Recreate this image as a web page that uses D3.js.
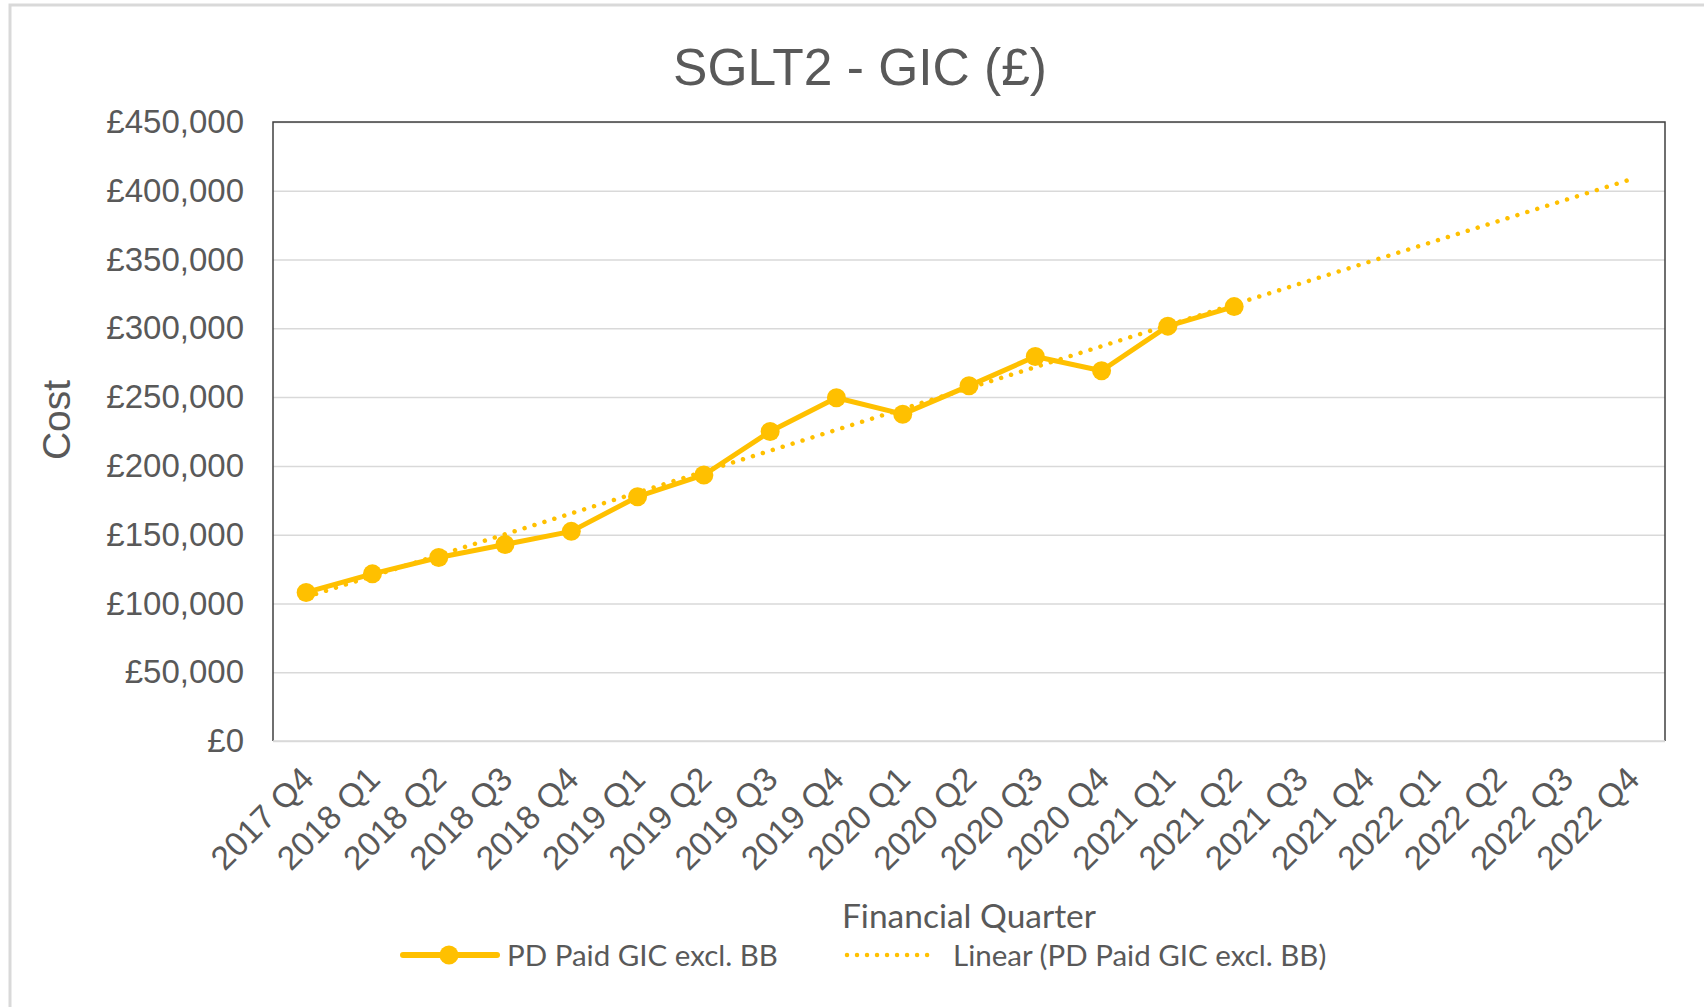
<!DOCTYPE html>
<html>
<head>
<meta charset="utf-8">
<script src="https://cdn.jsdelivr.net/npm/d3@7"></script>
<style>
  body { margin: 0; background: #fff; }
  text { fill: #595959; }
  .arial { font-family: "Liberation Sans", Arial, sans-serif; }
  .calib { font-family: Lato, "Open Sans", sans-serif; }
</style>
</head>
<body>
<script>
// data
var quarters = ['2017 Q4','2018 Q1','2018 Q2','2018 Q3','2018 Q4',
                '2019 Q1','2019 Q2','2019 Q3','2019 Q4',
                '2020 Q1','2020 Q2','2020 Q3','2020 Q4',
                '2021 Q1','2021 Q2','2021 Q3','2021 Q4',
                '2022 Q1','2022 Q2','2022 Q3','2022 Q4'];
var paidGIC = [108000, 121500, 133400, 142900, 152400,
               177600, 193400, 225000, 249500,
               237600, 258200, 279500, 269200,
               301600, 315800];
var yTicks = [0, 50000, 100000, 150000, 200000, 250000, 300000, 350000, 400000, 450000];

var colour = '#FFC000';
var W = 1704, H = 1007;
var plot = {l: 273, t: 122, r: 1665, b: 741};

var svg = d3.select('body').append('svg')
    .attr('width', W)
    .attr('height', H);

// outer frame
svg.append('rect')
    .attr('x', 10).attr('y', 5)
    .attr('width', W + 20).attr('height', H + 20)
    .attr('fill', 'none')
    .attr('stroke', '#d9d9d9')
    .attr('stroke-width', 3);

// title
svg.append('text')
    .attr('class', 'arial')
    .attr('x', 860).attr('y', 85)
    .attr('text-anchor', 'middle')
    .style('font-size', '51.5px')
    .text('SGLT2 - GIC (£)');

var x = d3.scalePoint()
    .domain(quarters)
    .range([plot.l, plot.r])
    .padding(0.5);

var y = d3.scaleLinear()
    .domain([0, 450000])
    .range([plot.b, plot.t]);

// gridlines
svg.append('g')
  .attr('transform', 'translate(' + plot.l + ',0)')
  .call(d3.axisLeft(y).tickValues(yTicks).tickSize(-(plot.r - plot.l)).tickFormat(''))
  .call(function(g) { g.select('.domain').remove(); })
  .selectAll('line')
    .attr('stroke', '#d9d9d9')
    .attr('stroke-width', 1.5);

// plot border (top, left, right)
svg.append('path')
    .attr('d', 'M' + plot.l + ',' + plot.b + 'V' + plot.t + 'H' + plot.r + 'V' + plot.b)
    .attr('fill', 'none')
    .attr('stroke', '#404040')
    .attr('stroke-width', 1.5);
svg.append('line')
    .attr('x1', plot.l).attr('x2', plot.r)
    .attr('y1', plot.b).attr('y2', plot.b)
    .attr('stroke', '#d9d9d9')
    .attr('stroke-width', 1.5);

// y axis labels
var yAxis = svg.append('g')
  .attr('transform', 'translate(' + plot.l + ',0)')
  .call(d3.axisLeft(y).tickValues(yTicks).tickSize(0).tickPadding(29)
        .tickFormat(function(d) { return '£' + d3.format(',')(d); }));
yAxis.select('.domain').remove();
yAxis.selectAll('text')
    .attr('fill', '#595959')
    .style('font-size', '33px')
    .style('font-family', '"Liberation Sans", Arial, sans-serif');

// x axis labels
var xAxis = svg.append('g')
  .attr('transform', 'translate(0,' + plot.b + ')')
  .call(d3.axisBottom(x).tickSize(0).tickFormat(function(d) { return d; }));
xAxis.select('.domain').remove();
xAxis.selectAll('text')
    .attr('fill', '#595959')
    .attr('text-anchor', 'end')
    .attr('dy', null)
    .attr('y', 0)
    .attr('transform', 'translate(9,40) rotate(-45)')
    .style('font-size', '33.5px')
    .style('font-family', '"Liberation Sans", Arial, sans-serif');

// axis titles
svg.append('text')
    .attr('class', 'arial')
    .attr('transform', 'translate(70,420) rotate(-90)')
    .attr('text-anchor', 'middle')
    .style('font-size', '39px')
    .text('Cost');

svg.append('text')
    .attr('class', 'calib')
    .attr('x', (plot.l + plot.r) / 2).attr('y', 928)
    .attr('text-anchor', 'middle')
    .style('font-size', '33.5px')
    .text('Financial Quarter');

// linear trend (least squares over the plotted quarters)
var mx = d3.mean(paidGIC, function(d, i) { return i; });
var my = d3.mean(paidGIC);
var sxy = d3.sum(paidGIC, function(d, i) { return (i - mx) * (d - my); });
var sxx = d3.sum(paidGIC, function(d, i) { return (i - mx) * (i - mx); });
var slope = sxy / sxx;
var icpt = my - slope * mx;
var trend = [0, quarters.length - 1].map(function(i) {
  return {q: quarters[i], v: icpt + slope * i};
});

var series = paidGIC.map(function(v, i) { return {q: quarters[i], v: v}; });

var line = d3.line()
    .x(function(d) { return x(d.q); })
    .y(function(d) { return y(d.v); });

svg.append('path')
    .datum(series)
    .attr('d', line)
    .attr('fill', 'none')
    .attr('stroke', colour)
    .attr('stroke-width', 5)
    .attr('stroke-linejoin', 'round');

svg.selectAll('circle.pt')
  .data(series)
  .enter().append('circle')
    .attr('class', 'pt')
    .attr('cx', function(d) { return x(d.q); })
    .attr('cy', function(d) { return y(d.v); })
    .attr('r', 9.5)
    .attr('fill', colour);

svg.append('path')
    .datum(trend)
    .attr('d', line)
    .attr('fill', 'none')
    .attr('stroke', colour)
    .attr('stroke-width', 4.5)
    .attr('stroke-linecap', 'round')
    .attr('stroke-dasharray', '0.01 10.4');

// legend
var lg = svg.append('g');
lg.append('line')
    .attr('x1', 403).attr('x2', 497)
    .attr('y1', 955).attr('y2', 955)
    .attr('stroke', colour)
    .attr('stroke-width', 6)
    .attr('stroke-linecap', 'round');
lg.append('circle')
    .attr('cx', 449).attr('cy', 955)
    .attr('r', 9.5)
    .attr('fill', colour);
lg.append('text')
    .attr('class', 'calib')
    .attr('x', 507).attr('y', 955)
    .attr('dy', '0.36em')
    .style('font-size', '29.5px')
    .text('PD Paid GIC excl. BB');

lg.append('line')
    .attr('x1', 847).attr('x2', 937)
    .attr('y1', 955).attr('y2', 955)
    .attr('stroke', colour)
    .attr('stroke-width', 4.5)
    .attr('stroke-linecap', 'round')
    .attr('stroke-dasharray', '0.01 10');
lg.append('text')
    .attr('class', 'calib')
    .attr('x', 953).attr('y', 955)
    .attr('dy', '0.36em')
    .style('font-size', '29.5px')
    .text('Linear (PD Paid GIC excl. BB)');
</script>
</body>
</html>
